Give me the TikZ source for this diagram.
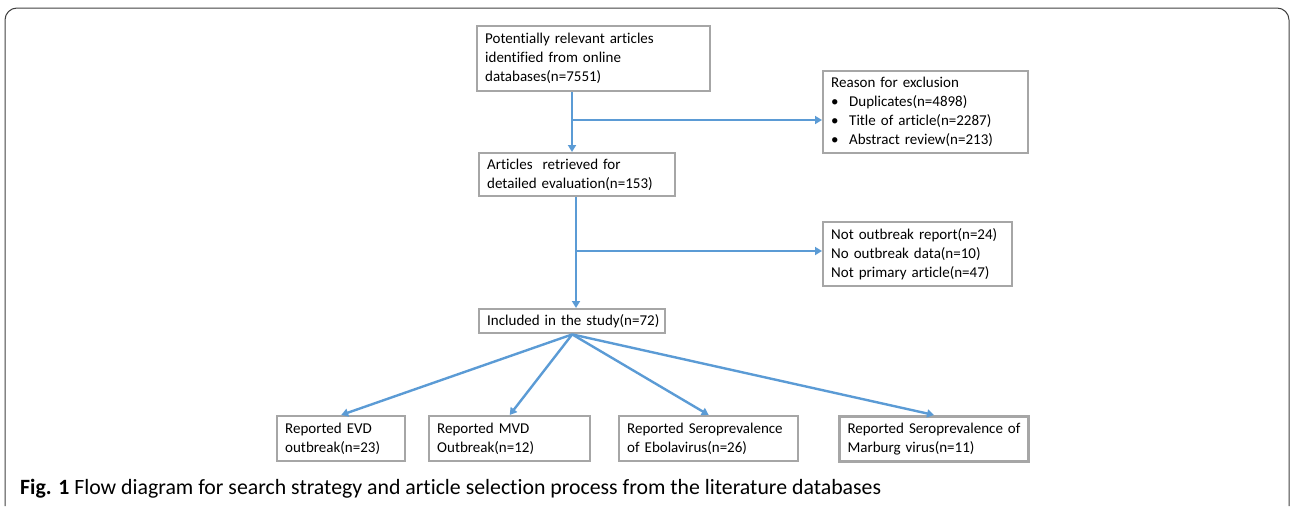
\documentclass[tikz,border=0pt]{standalone}
\usepackage{fontspec}
\setmainfont[Ligatures=NoCommon]{Carlito}
\newfontfamily\capfont[Ligatures=NoCommon]{Carlito}
\usetikzlibrary{arrows.meta,calc}
\definecolor{lineblue}{RGB}{91,155,213}
\definecolor{boxgray}{RGB}{166,166,166}
\tikzset{
  box/.style={draw=boxgray, line width=2.4pt, anchor=north west, align=left,
    inner xsep=8pt, inner ysep=3pt, font=\fontsize{15}{19}\selectfont, fill=white},
  arr/.style={draw=lineblue, line width=2.4pt, -{Triangle[length=7pt,width=8pt]}},
}
\begin{document}
\begin{tikzpicture}[x=1pt,y=-1pt]
\useasboundingbox (0,0) rectangle (1290,506);
% outer frame
\draw[black!75, line width=1pt, rounded corners=12pt] (5,506) -- (5,8) -- (1289,8) -- (1289,506);
% nodes
\node[box, text width=217pt, minimum height=65pt] (b1) at (476,25)
  {Potentially relevant articles\\identified from online\\databases(n=7551)};
\node[box, text width=189pt, minimum height=82pt] (r1) at (822,70)
  {Reason for exclusion\\
   \makebox[18pt][l]{\textbullet}Duplicates(n=4898)\\
   \makebox[18pt][l]{\textbullet}Title of article(n=2287)\\
   \makebox[18pt][l]{\textbullet}Abstract review(n=213)};
\node[box, text width=180pt, minimum height=43pt] (b2) at (478,152)
  {Articles\ \ retrieved for\\detailed evaluation(n=153)};
\node[box, text width=173pt, minimum height=64pt] (r2) at (822,221)
  {Not outbreak report(n=24)\\No outbreak data(n=10)\\Not primary article(n=47)};
\node[box, text width=176pt, inner xsep=5pt, minimum height=24pt] (inc) at (478,308)
  {\hspace*{3pt}Included in the study(n=72)};
\node[box, text width=112pt, minimum height=45pt] (evd) at (276,415)
  {Reported EVD\\outbreak(n=23)};
\node[box, text width=145pt, minimum height=45pt] (mvd) at (428,415)
  {Reported MVD\\Outbreak(n=12)};
\node[box, text width=163pt, minimum height=45pt] (seb) at (618,415)
  {Reported Seroprevalence\\of Ebolavirus(n=26)};
\node[box, text width=173pt, minimum height=45pt, line width=3pt] (smv) at (838,415)
  {Reported Seroprevalence of\\Marburg virus(n=11)};
% connectors
\coordinate (j1) at ([xshift=96pt]b1.south west);
\coordinate (j1m) at (572,120);
\draw[arr] (j1) -- (j1 |- b2.north);
\draw[arr] (j1m) -- (j1m -| r1.west);
\coordinate (j2) at ([xshift=98pt]b2.south west);
\coordinate (j2m) at (576,251);
\draw[arr] (j2) -- (j2 |- inc.north);
\draw[arr] (j2m) -- (j2m -| r2.west);
\draw[arr] (inc.south) -- (evd.north);
\draw[arr] (inc.south) -- (mvd.north);
\draw[arr] (inc.south) -- (seb.north);
\draw[arr] (inc.south) -- (smv.north);
% caption
\node[anchor=base west, inner sep=0pt, font=\capfont\fontsize{21.8}{24}\selectfont] (cap) at (20,494)
  {\textbf{Fig. 1} Flow diagram for search strategy and article selection process from the literature databases};
\end{tikzpicture}
\end{document}
